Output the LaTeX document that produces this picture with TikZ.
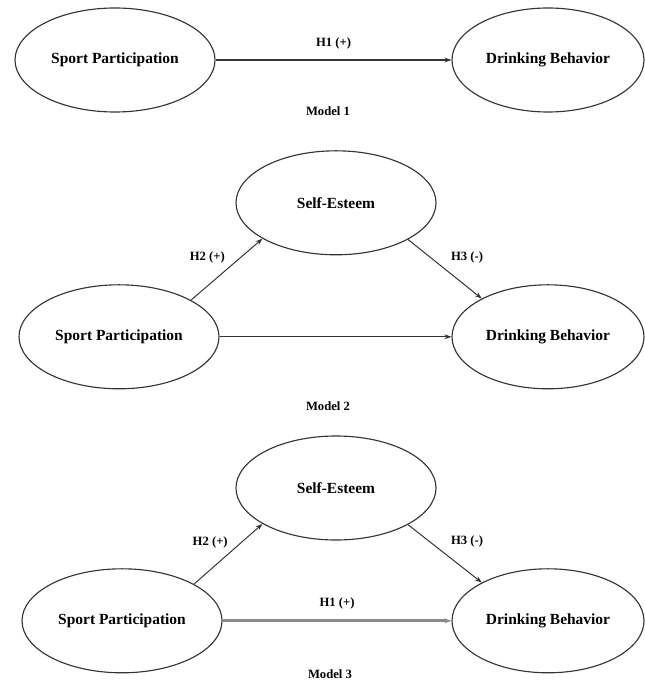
\documentclass[tikz,border=0pt]{standalone}
\usepackage{fontspec}
\setmainfont{Liberation Serif}
\usepackage{tikz}
\usetikzlibrary{shapes.geometric, arrows.meta, positioning}
\definecolor{linegray}{HTML}{333333}
\definecolor{thickgray}{HTML}{8a8a8a}

\begin{document}
\begin{tikzpicture}[
    var_node/.style={ellipse, draw=linegray, line width=0.8pt, minimum width=5cm, minimum height=2.6cm, font=\fontsize{11}{13}\selectfont\bfseries},
    db_node/.style={var_node, minimum width=4.8cm},
    path_arrow/.style={-{Stealth[length=5pt,width=3.5pt]}, draw=linegray, line width=0.7pt},
    hyp_label/.style={font=\fontsize{9}{11}\selectfont\bfseries, text=black},
    model_caption/.style={font=\fontsize{9}{11}\selectfont\bfseries}
]
\useasboundingbox (0,0) rectangle (16.1,-17.1);

% Model 1
\node[var_node] (sp1) at (2.875,-1.5) {Sport Participation};
\node[db_node] (db1) at (13.7,-1.5) {Drinking Behavior};
\draw[path_arrow, line width=1pt] (sp1) -- node[hyp_label, above=4pt] {H1 (+)} (db1);
\node[model_caption] (cap1) at (8.2,-2.78) {Model 1};

% Model 2
\node[var_node] (se2) at (8.4,-5.07) {Self-Esteem};
\node[var_node] (sp2) at (2.975,-8.42) {Sport Participation};
\node[db_node] (db2) at (13.7,-8.42) {Drinking Behavior};
\draw[path_arrow] (sp2.27) -- node[hyp_label, above left=1pt, xshift=3pt] {H2 (+)} (se2.206);
\draw[path_arrow] (se2.333) -- node[hyp_label, above right=1pt] {H3 (-)} (db2.150);
\draw[path_arrow, line width=0.9pt] (sp2) -- (db2);
\node[model_caption] (cap2) at (8.2,-10.15) {Model 2};

% Model 3
\node[var_node] (se3) at (8.4,-12.2) {Self-Esteem};
\node[var_node] (sp3) at (3.05,-15.52) {Sport Participation};
\node[db_node] (db3) at (13.7,-15.52) {Drinking Behavior};
\draw[path_arrow] (sp3.27) -- node[hyp_label, above left=1pt, xshift=4pt] {H2 (+)} (se3.206);
\draw[path_arrow] (se3.333) -- node[hyp_label, above right=1pt] {H3 (-)} (db3.150);
\draw[path_arrow, draw=thickgray, line width=2pt] (sp3) -- node[hyp_label, above=4pt] {H1 (+)} (db3);
\node[model_caption] (cap3) at (8.25,-16.85) {Model 3};

\end{tikzpicture}
\end{document}
